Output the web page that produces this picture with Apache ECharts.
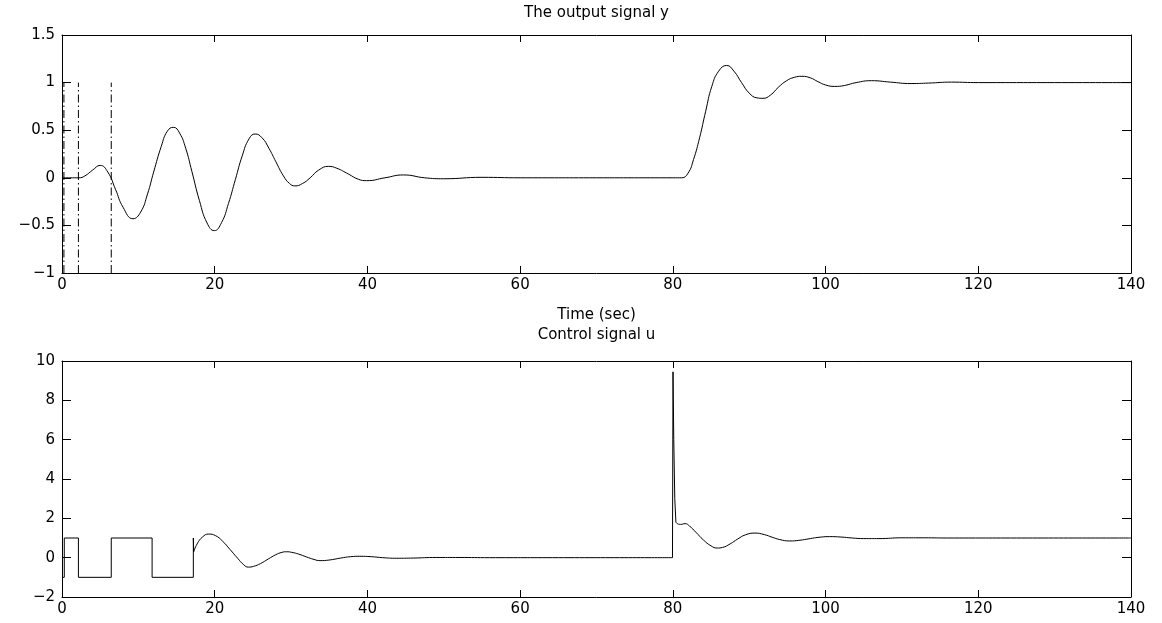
<!DOCTYPE html>
<html>
<head>
<meta charset="utf-8">
<script src="https://cdn.jsdelivr.net/npm/echarts@6/dist/echarts.min.js"></script>
<style>
html,body{margin:0;padding:0;background:#fff;}
#chart{width:1162px;height:623px;}
</style>
</head>
<body>
<div id="chart"></div>
<script>
// ---------- data ----------
const xTicks = [0, 20, 40, 60, 80, 100, 120, 140];
const yTicksTop = [-1, -0.5, 0, 0.5, 1, 1.5];
const yTicksBottom = [-2, 0, 2, 4, 6, 8, 10];

const titleTop = 'The output signal y';
const xAxisTitle = 'Time (sec)';
const titleBottom = 'Control signal u';

// output signal y (time, value)
const outputY = [
  [0,0],[1,0],[2.2,0],[3,0.02],[4,0.08],[5,0.13],[6,0.06],[7,-0.12],[8,-0.31],[9.3,-0.43],[10.3,-0.36],
  [11.2,-0.17],[12,0.06],[13,0.33],[13.8,0.49],[14.6,0.53],[15.4,0.47],[16.2,0.31],[17,0.07],[18,-0.24],
  [19,-0.475],[19.95,-0.555],[20.9,-0.47],[21.8,-0.27],[22.7,-0.02],[23.6,0.23],[24.5,0.41],[25.3,0.46],
  [26.2,0.42],[27.1,0.31],[28,0.17],[29,0.02],[29.8,-0.06],[30.5,-0.085],[31.5,-0.06],[32.5,0.0],[33.6,0.08],
  [34.9,0.12],[36,0.10],[37.5,0.04],[38.8,-0.015],[39.9,-0.03],[42.3,0.0],[44.7,0.03],[47.5,0.0],[50,-0.01],
  [55,0.005],[60,0],[70,0],[80,0],[81.15,0],[82,0.05],[82.7,0.19],[83.5,0.42],[84.3,0.70],[85.1,0.96],
  [86,1.12],[87.05,1.18],[88,1.12],[89,1.0],[90,0.89],[91,0.84],[91.8,0.835],[92.8,0.87],[93.8,0.95],
  [94.9,1.02],[95.9,1.055],[96.9,1.066],[98,1.05],[99,1.01],[100,0.975],[101.2,0.96],[102.5,0.97],[104,1.0],
  [106,1.02],[108.5,1.005],[111.2,0.99],[113.5,0.995],[116.5,1.005],[120,1.0],[130,1.0],[140,1.0]
];

// switching instants drawn as dash-dot verticals, and their level range
const switchTimes = [0.25, 2.15, 6.45];
const switchLevels = [-1, 1];

// control signal u, split in pieces (steps vs smooth response)
const uSquare = [
  [0,-1],[0.3,-1],[0.3,1],[2.15,1],[2.15,-1],[6.45,-1],[6.45,1],[11.8,1],[11.8,-1],[17.2,-1],[17.2,1.0],[17.25,0.3]
];
const uResponse1 = [
  [17.25,0.3],[17.7,0.7],[18.4,1.05],[19.2,1.2],[20.1,1.12],[21,0.85],[22,0.42],[23,-0.03],[23.8,-0.36],
  [24.4,-0.48],[25.1,-0.44],[26,-0.3],[27,-0.07],[28,0.15],[28.8,0.27],[29.4,0.3],[30.1,0.27],[31,0.18],
  [32,0.04],[33,-0.09],[33.8,-0.15],[35,-0.12],[36.5,-0.02],[37.8,0.05],[39,0.07],[40.5,0.05],[42,0.0],
  [43.8,-0.03],[46,-0.02],[49,0.01],[52,0.01],[56,0.0],[65,0],[79.95,0]
];
const uSpike = [
  [79.95,0],[80,0],[80.02,9.45],[80.12,6.0],[80.25,3.0],[80.4,1.8],[80.6,1.72]
];
const uResponse2 = [
  [80.6,1.72],[81,1.69],[81.6,1.73],[82.2,1.6],[83,1.3],[84,0.9],[85,0.6],[85.8,0.49],[86.5,0.52],[87.5,0.7],
  [88.5,0.95],[89.5,1.16],[90.75,1.25],[92,1.17],[93,1.04],[94,0.92],[95.3,0.85],[96.5,0.88],[98,0.97],
  [99,1.03],[100.5,1.07],[102,1.05],[103.5,1.0],[105,0.97],[107,0.97],[110,1.01],[113,1.01],[116,1.0],
  [125,1.0],[140,1.0]
];

// ---------- chart ----------
const FONT = 'DejaVu Sans';
const FS = 15;
const fmt = v => (v < 0 ? '\u2212' : '') + String(Math.abs(v));

function xAxisPair(gi) {
  const base = {
    gridIndex: gi, type: 'value', min: xTicks[0], max: xTicks[xTicks.length - 1],
    interval: xTicks[1] - xTicks[0], splitLine: {show: false},
    axisLine: {show: true, onZero: false, lineStyle: {color: '#000', width: 1}},
    axisTick: {show: true, inside: true, length: 7, lineStyle: {color: '#000', width: 1}}
  };
  return [
    Object.assign({}, base, {position: 'bottom',
      axisLabel: {show: true, color: '#000', fontFamily: FONT, fontSize: FS, margin: 5,
        showMinLabel: true, showMaxLabel: true, formatter: fmt}}),
    Object.assign({}, base, {position: 'top', axisLabel: {show: false}})
  ];
}
function yAxisPair(gi, ticks) {
  const base = {
    gridIndex: gi, type: 'value', min: ticks[0], max: ticks[ticks.length - 1],
    interval: ticks[1] - ticks[0], splitLine: {show: false},
    axisLine: {show: true, onZero: false, lineStyle: {color: '#000', width: 1}},
    axisTick: {show: true, inside: true, length: 9, lineStyle: {color: '#000', width: 1}}
  };
  return [
    Object.assign({}, base, {position: 'left',
      axisLabel: {show: true, color: '#000', fontFamily: FONT, fontSize: FS, margin: 7,
        showMinLabel: true, showMaxLabel: true, formatter: fmt}}),
    Object.assign({}, base, {position: 'right', axisLabel: {show: false}})
  ];
}

const solid = {color: '#000', width: 1, type: 'solid'};
function lineSeries(data, xi, yi, smooth) {
  return {type: 'line', xAxisIndex: xi, yAxisIndex: yi, data: data, showSymbol: false, symbol: 'none',
    smooth: smooth, lineStyle: solid, itemStyle: {color: '#000'}, silent: true, z: 3};
}

const series = [
  lineSeries(outputY, 0, 0, 0.5)
];
switchTimes.forEach(t => {
  series.push({type: 'line', xAxisIndex: 0, yAxisIndex: 0, showSymbol: false, symbol: 'none', silent: true,
    data: switchLevels.map(v => [t, v]),
    lineStyle: {color: '#000', width: 1, type: [8, 3, 1.5, 3]}, z: 2});
});
series.push(lineSeries(uSquare, 2, 2, false));
series.push(lineSeries(uResponse1, 2, 2, 0.5));
series.push(lineSeries(uSpike, 2, 2, false));
series.push(lineSeries(uResponse2, 2, 2, 0.5));

const plotLeft = 62, plotWidth = 1069;
const cx = plotLeft + plotWidth / 2;
function label(text, y) {
  return {type: 'text', x: cx, y: y, silent: true,
    style: {text: text, fill: '#000', font: FS + 'px "' + FONT + '"',
      align: 'center', textAlign: 'center', verticalAlign: 'top', textVerticalAlign: 'top'}};
}

const option = {
  backgroundColor: '#fff',
  animation: false,
  grid: [
    {left: plotLeft, top: 35, width: plotWidth, height: 238},
    {left: plotLeft, top: 361, width: plotWidth, height: 236}
  ],
  xAxis: [...xAxisPair(0), ...xAxisPair(1)],
  yAxis: [...yAxisPair(0, yTicksTop), ...yAxisPair(1, yTicksBottom)],
  series: series,
  graphic: [
    label(titleTop, 6),
    label(xAxisTitle, 308),
    label(titleBottom, 328)
  ]
};

const chart = echarts.init(document.getElementById('chart'), null, {renderer: 'canvas'});
chart.setOption(option);
</script>
</body>
</html>
